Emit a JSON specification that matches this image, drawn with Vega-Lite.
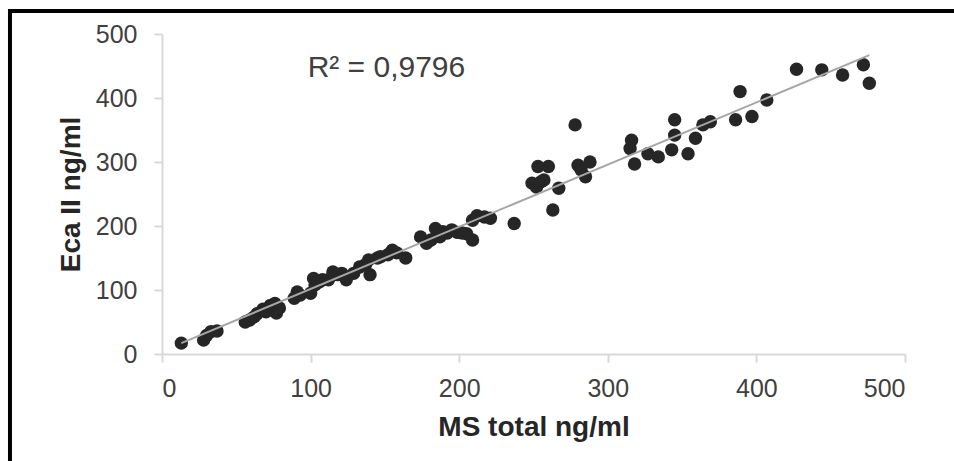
{
  "$schema": "https://vega.github.io/schema/vega-lite/v6.json",
  "width": 743,
  "height": 320,
  "autosize": "none",
  "padding": {"left": 162, "top": 34, "right": 49, "bottom": 107},
  "background": "white",
  "config": {
    "view": {"stroke": null},
    "font": "Liberation Sans",
    "axis": {
      "grid": false,
      "domainColor": "#d9d9d9",
      "domainWidth": 2,
      "tickColor": "#d9d9d9",
      "tickWidth": 2,
      "tickSize": 8,
      "labelFont": "Liberation Sans",
      "labelFontSize": 25,
      "labelColor": "#404040",
      "titleFont": "Liberation Sans",
      "titleFontSize": 28,
      "titleFontWeight": "bold",
      "titleColor": "#262626"
    }
  },
  "datasets": {
    "points": [
      {"ms": 13, "eca": 17},
      {"ms": 28, "eca": 22},
      {"ms": 30, "eca": 29},
      {"ms": 33, "eca": 35},
      {"ms": 37, "eca": 36},
      {"ms": 56, "eca": 50},
      {"ms": 59, "eca": 53},
      {"ms": 62, "eca": 58},
      {"ms": 64, "eca": 63},
      {"ms": 68, "eca": 70},
      {"ms": 70, "eca": 66},
      {"ms": 73, "eca": 76},
      {"ms": 76, "eca": 79},
      {"ms": 77, "eca": 64},
      {"ms": 79, "eca": 72},
      {"ms": 89, "eca": 87},
      {"ms": 91, "eca": 97},
      {"ms": 93, "eca": 92},
      {"ms": 100, "eca": 95},
      {"ms": 102, "eca": 118},
      {"ms": 103, "eca": 108},
      {"ms": 106, "eca": 113},
      {"ms": 108, "eca": 116},
      {"ms": 112, "eca": 116},
      {"ms": 115, "eca": 128},
      {"ms": 118, "eca": 124},
      {"ms": 121, "eca": 126},
      {"ms": 124, "eca": 116},
      {"ms": 129, "eca": 126},
      {"ms": 133, "eca": 136},
      {"ms": 137, "eca": 140},
      {"ms": 139, "eca": 147},
      {"ms": 140, "eca": 124},
      {"ms": 145, "eca": 150},
      {"ms": 147, "eca": 152},
      {"ms": 152, "eca": 155},
      {"ms": 155, "eca": 162},
      {"ms": 158, "eca": 158},
      {"ms": 164, "eca": 150},
      {"ms": 174, "eca": 183},
      {"ms": 178, "eca": 173},
      {"ms": 181, "eca": 178},
      {"ms": 184, "eca": 196},
      {"ms": 187, "eca": 183},
      {"ms": 189, "eca": 191},
      {"ms": 192, "eca": 189},
      {"ms": 195, "eca": 194},
      {"ms": 199, "eca": 190},
      {"ms": 202, "eca": 189},
      {"ms": 205, "eca": 188},
      {"ms": 209, "eca": 178},
      {"ms": 209, "eca": 209},
      {"ms": 212, "eca": 216},
      {"ms": 217, "eca": 214},
      {"ms": 221, "eca": 212},
      {"ms": 237, "eca": 204},
      {"ms": 249, "eca": 267},
      {"ms": 252, "eca": 261},
      {"ms": 253, "eca": 293},
      {"ms": 255, "eca": 269},
      {"ms": 257, "eca": 272},
      {"ms": 260, "eca": 293},
      {"ms": 263, "eca": 225},
      {"ms": 267, "eca": 259},
      {"ms": 278, "eca": 358},
      {"ms": 280, "eca": 295},
      {"ms": 282, "eca": 288},
      {"ms": 285, "eca": 277},
      {"ms": 288, "eca": 300},
      {"ms": 315, "eca": 321},
      {"ms": 316, "eca": 334},
      {"ms": 318, "eca": 297},
      {"ms": 327, "eca": 313},
      {"ms": 334, "eca": 308},
      {"ms": 343, "eca": 319},
      {"ms": 345, "eca": 342},
      {"ms": 345, "eca": 366},
      {"ms": 354, "eca": 313},
      {"ms": 359, "eca": 337},
      {"ms": 364, "eca": 358},
      {"ms": 369, "eca": 363},
      {"ms": 386, "eca": 366},
      {"ms": 389, "eca": 410},
      {"ms": 397, "eca": 371},
      {"ms": 407, "eca": 397},
      {"ms": 427, "eca": 445},
      {"ms": 444, "eca": 444},
      {"ms": 458, "eca": 436},
      {"ms": 472, "eca": 452},
      {"ms": 476, "eca": 423}
    ],
    "one": [{"label": "R² = 0,9796"}]
  },
  "layer": [
    {
      "data": {"name": "points"},
      "mark": {"type": "circle", "size": 180, "opacity": 1, "color": "#262626"},
      "encoding": {
        "x": {
          "field": "ms", "type": "quantitative",
          "scale": {"domain": [0, 500], "nice": false, "zero": false},
          "axis": {"title": "MS total ng/ml", "values": [0, 100, 200, 300, 400, 500], "labelPadding": 14, "titlePadding": 12}
        },
        "y": {
          "field": "eca", "type": "quantitative",
          "scale": {"domain": [0, 500], "nice": false, "zero": false},
          "axis": {"title": "Eca II ng/ml", "values": [0, 100, 200, 300, 400, 500], "labelPadding": 17, "titlePadding": 10}
        }
      }
    },
    {
      "data": {"name": "points"},
      "transform": [{"regression": "eca", "on": "ms"}],
      "mark": {"type": "line", "color": "#a6a6a6", "strokeWidth": 2},
      "encoding": {
        "x": {"field": "ms", "type": "quantitative"},
        "y": {"field": "eca", "type": "quantitative"}
      }
    },
    {
      "data": {"name": "one"},
      "mark": {"type": "text", "align": "left", "baseline": "alphabetic", "fontSize": 30, "color": "#404040", "font": "Liberation Sans"},
      "encoding": {
        "text": {"field": "label"},
        "x": {"datum": 98, "type": "quantitative"},
        "y": {"datum": 433, "type": "quantitative"}
      }
    },
    {
      "data": {"name": "one"},
      "mark": {"type": "rule", "color": "black", "strokeWidth": 4, "clip": false},
      "encoding": {
        "x": {"datum": -102.3, "type": "quantitative"},
        "y": {"datum": -170, "type": "quantitative"},
        "y2": {"datum": 539}
      }
    },
    {
      "data": {"name": "one"},
      "mark": {"type": "rule", "color": "black", "strokeWidth": 4, "clip": false},
      "encoding": {
        "x": {"datum": -103.6, "type": "quantitative"},
        "x2": {"datum": 540},
        "y": {"datum": 536, "type": "quantitative"}
      }
    }
  ]
}
